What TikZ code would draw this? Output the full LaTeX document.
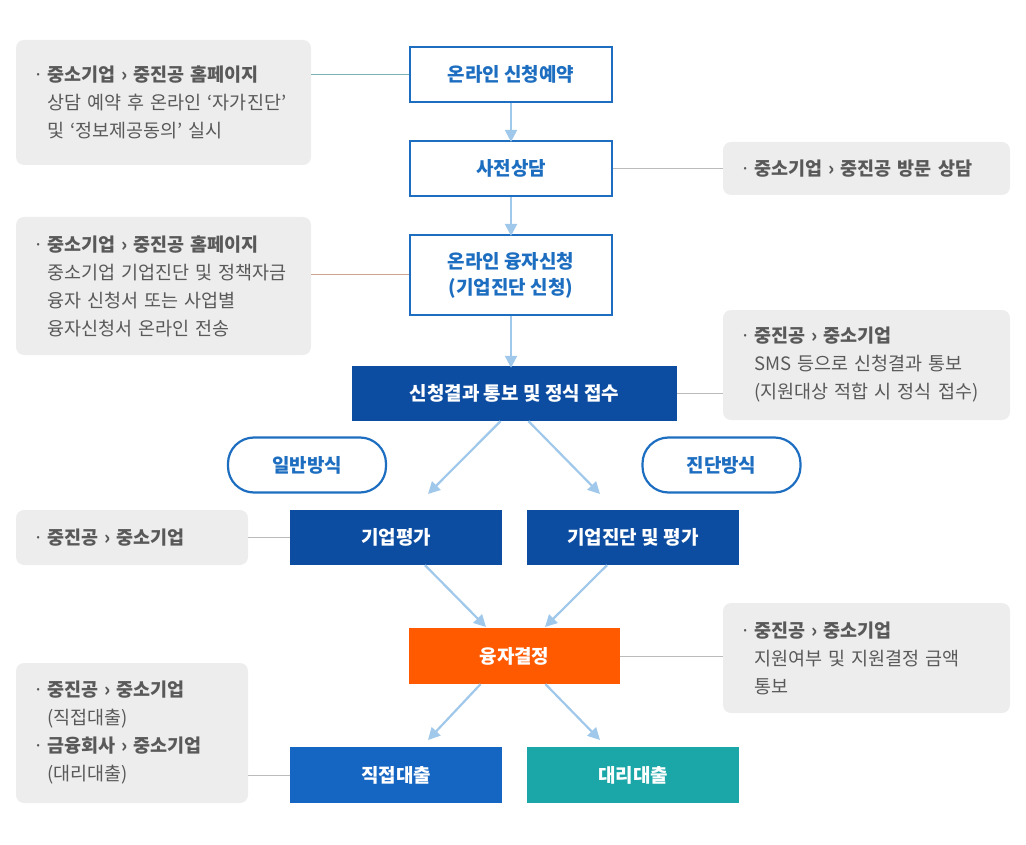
\documentclass[tikz,border=0pt]{standalone}
\usepackage{fontspec}
\setmainfont{Noto Sans CJK KR}
\usetikzlibrary{arrows.meta}
\definecolor{bblue}{HTML}{1D6EC0}
\definecolor{dblue}{HTML}{0C4DA2}
\definecolor{orng}{HTML}{FF5A00}
\definecolor{mblue}{HTML}{1565C2}
\definecolor{teal2}{HTML}{1BA6A8}
\definecolor{notebg}{HTML}{EDEDED}
\definecolor{notetx}{HTML}{595959}
\definecolor{arrowc}{HTML}{A0C8EA}
\definecolor{linec}{HTML}{BBBBBB}
\newcommand\bul{\makebox[14pt][l]{·}}
\newcommand\ind{\hspace*{14pt}}
\tikzset{
  obox/.style={draw=bblue, line width=2.2pt, fill=white, text=bblue, font=\fontsize{19}{26}\selectfont\bfseries, align=center, minimum width=202pt, inner sep=0pt},
  fbox/.style={fill=#1, text=white, font=\fontsize{19}{26}\selectfont\bfseries, align=center, minimum height=55pt, inner sep=0pt},
  pill/.style={draw=bblue, line width=2.2pt, fill=white, text=bblue, rounded corners=26pt, font=\fontsize{19}{26}\selectfont\bfseries, minimum width=158pt, minimum height=55pt, inner sep=0pt},
  note/.style={fill=notebg, rounded corners=8pt, text=notetx, font=\fontsize{18.5}{28}\selectfont, align=left, inner xsep=17pt, inner ysep=0pt, anchor=center},
  arr/.style={draw=arrowc, line width=2.2pt, -{Triangle[length=12pt,width=12pt]}},
  lnk/.style={draw=#1, line width=1pt},
}
\begin{document}
\begin{tikzpicture}[x=1pt,y=-1pt]
\useasboundingbox (0,0) rectangle (1026,845);
% main flow
\node[obox, minimum height=55pt] (b1) at (511,74.5) {온라인 신청예약};
\node[obox, minimum height=55pt] (b2) at (511,168.5) {사전상담};
\node[obox, minimum height=80pt] (b3) at (511,275) {온라인 융자신청\\(기업진단 신청)};
\node[fbox=dblue, minimum width=325pt] (b4) at (514.5,393.5) {신청결과 통보 및 정식 접수};
\node[pill] (p1) at (307,465) {일반방식};
\node[pill] (p2) at (721.5,465) {진단방식};
\node[fbox=dblue, minimum width=212pt] (e1) at (396,537.5) {기업평가};
\node[fbox=dblue, minimum width=212pt] (e2) at (633,537.5) {기업진단 및 평가};
\node[fbox=orng, minimum width=211pt, minimum height=56pt] (d) at (514.5,656) {융자결정};
\node[fbox=mblue, minimum width=212pt, minimum height=56pt] (l1) at (396,775) {직접대출};
\node[fbox=teal2, minimum width=212pt, minimum height=56pt] (l2) at (633,775) {대리대출};
% notes
\node[note, minimum width=295pt, minimum height=125pt, text width=261pt] (n1) at (163.5,102.5)
  {\bul\textbf{중소기업 › 중진공 홈페이지}\\\ind 상담 예약 후 온라인 ‘자가진단’\\\ind 및 ‘정보제공동의’ 실시\\[-2pt]};
\node[note, minimum width=287pt, minimum height=53pt, text width=253pt] (n2) at (866.5,168.5)
  {\bul\textbf{중소기업 › 중진공 방문 상담}};
\node[note, minimum width=295pt, minimum height=138pt, text width=261pt] (n3) at (163.5,286)
  {\bul\textbf{중소기업 › 중진공 홈페이지}\\\ind 중소기업 기업진단 및 정책자금\\\ind 융자 신청서 또는 사업별\\\ind 융자신청서 온라인 전송\\[-2pt]};
\node[note, minimum width=287pt, minimum height=110pt, text width=253pt] (n4) at (866.5,365)
  {\bul\textbf{중진공 › 중소기업}\\\ind SMS 등으로 신청결과 통보\\\ind (지원대상 적합 시 정식 접수)};
\node[note, minimum width=232pt, minimum height=55pt, text width=198pt] (n5) at (132,537.5)
  {\bul\textbf{중진공 › 중소기업}};
\node[note, minimum width=287pt, minimum height=110pt, text width=253pt] (n6) at (866.5,658)
  {\bul\textbf{중진공 › 중소기업}\\\ind 지원여부 및 지원결정 금액\\\ind 통보};
\node[note, minimum width=232pt, minimum height=140pt, text width=198pt] (n7) at (132,733)
  {\bul\textbf{중진공 › 중소기업}\\\ind (직접대출)\\\bul\textbf{금융회사 › 중소기업}\\\ind (대리대출)};
% links
\draw[lnk=teal2!40!linec] (n1.east |- b1.center) coordinate (c1) (c1) -- (b1.west);
\draw[lnk=linec] (b2.east) -- (n2.west);
\draw[lnk=orng!25!linec] (n3.east |- b3.center) coordinate (c3) (c3) -- (b3.west);
\draw[lnk=linec] (b4.east |- 0,393) coordinate (c4a) (n4.west |- 0,393) coordinate (c4b) (c4a) -- (c4b);
\draw[lnk=linec] (n5.east) -- (e1.west);
\draw[lnk=linec] (d.east) -- (n6.west |- d.east);
\draw[lnk=linec] (n7.east |- l1.center) coordinate (c7) (c7) -- (l1.west);
% arrow end points
\coordinate (t1) at (428,494);
\coordinate (t2) at (600,494);
\coordinate (t3) at (486,627);
\coordinate (t4) at (545,627);
\coordinate (t5) at (428,740);
\coordinate (t6) at (600,740);
% arrows
\draw[arr] (b1.south) -- ([yshift=-2pt]b2.north);
\draw[arr] (b2.south) -- ([yshift=-2pt]b3.north);
\draw[arr] (b3.south) -- ([yshift=-2pt]b3.south |- b4.north);
\draw[arr] ([xshift=-14pt]b4.south) -- (t1);
\draw[arr] ([xshift=14pt]b4.south) -- (t2);
\draw[arr] ([xshift=29pt]e1.south) -- (t3);
\draw[arr] ([xshift=-26pt]e2.south) -- (t4);
\draw[arr] ([xshift=-34pt]d.south) -- (t5);
\draw[arr] ([xshift=31pt]d.south) -- (t6);
\end{tikzpicture}
\end{document}
